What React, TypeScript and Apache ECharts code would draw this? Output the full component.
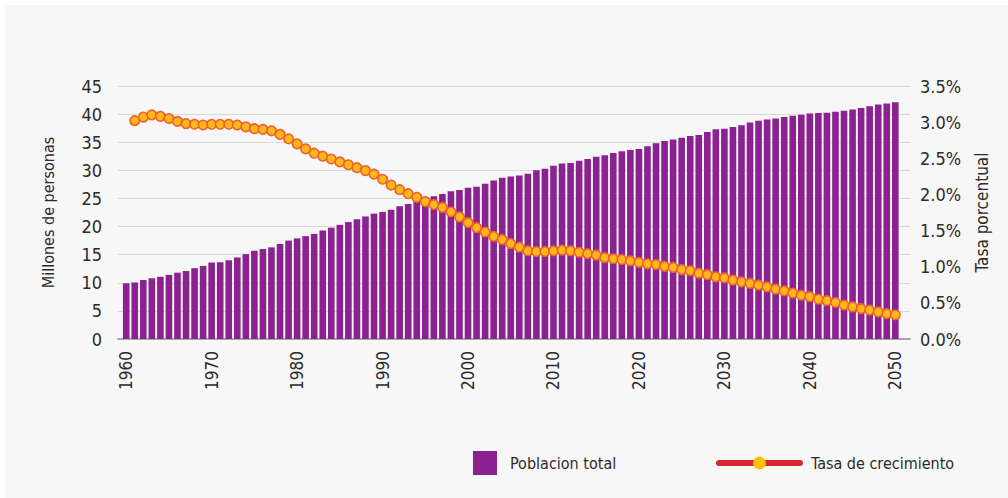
import React, { useEffect, useRef } from "react";
import * as echarts from "echarts";

const years = [
  1960, 1961, 1962, 1963, 1964, 1965, 1966, 1967, 1968, 1969,
  1970, 1971, 1972, 1973, 1974, 1975, 1976, 1977, 1978, 1979,
  1980, 1981, 1982, 1983, 1984, 1985, 1986, 1987, 1988, 1989,
  1990, 1991, 1992, 1993, 1994, 1995, 1996, 1997, 1998, 1999,
  2000, 2001, 2002, 2003, 2004, 2005, 2006, 2007, 2008, 2009,
  2010, 2011, 2012, 2013, 2014, 2015, 2016, 2017, 2018, 2019,
  2020, 2021, 2022, 2023, 2024, 2025, 2026, 2027, 2028, 2029,
  2030, 2031, 2032, 2033, 2034, 2035, 2036, 2037, 2038, 2039,
  2040, 2041, 2042, 2043, 2044, 2045, 2046, 2047, 2048, 2049,
  2050,
];

const yearLabels = [1960, 1970, 1980, 1990, 2000, 2010, 2020, 2030, 2040, 2050];

// Poblacion total (millones de personas)
const poblacion = [
  9.9, 10.05, 10.5, 10.8, 11.07, 11.4, 11.8, 12.1, 12.6, 13.0,
  13.6, 13.65, 14.0, 14.5, 15.1, 15.7, 16.0, 16.3, 16.9, 17.5,
  17.9, 18.3, 18.7, 19.3, 19.8, 20.3, 20.8, 21.3, 21.8, 22.3,
  22.6, 23.0, 23.6, 24.0, 24.6, 25.1, 25.4, 25.8, 26.3, 26.5,
  26.9, 27.1, 27.6, 28.2, 28.7, 28.9, 29.1, 29.4, 30.0, 30.3,
  30.8, 31.2, 31.3, 31.7, 32.0, 32.4, 32.7, 33.1, 33.4, 33.6,
  33.8, 34.3, 34.8, 35.2, 35.5, 35.8, 36.1, 36.3, 36.8, 37.3,
  37.4, 37.7, 38.0, 38.5, 38.8, 39.05, 39.2, 39.5, 39.7, 39.9,
  40.1, 40.2, 40.25, 40.4, 40.6, 40.8, 41.1, 41.4, 41.7, 41.9,
  42.1,
];

// Tasa de crecimiento (%)
const tasa: (number | null)[] = [
  null, 3.02, 3.07, 3.1, 3.08, 3.05, 3.01, 2.98, 2.97, 2.96,
  2.97, 2.97, 2.97, 2.96, 2.935, 2.91, 2.9, 2.88, 2.83, 2.77,
  2.7, 2.63, 2.57, 2.53, 2.49, 2.45, 2.41, 2.37, 2.33, 2.28,
  2.21, 2.13, 2.065, 2.01, 1.96, 1.9, 1.86, 1.82, 1.76, 1.69,
  1.61, 1.54, 1.48, 1.42, 1.375, 1.32, 1.27, 1.22, 1.21, 1.21,
  1.22, 1.23, 1.22, 1.2, 1.18, 1.16, 1.125, 1.11, 1.1, 1.08,
  1.06, 1.04, 1.03, 1.005, 0.99, 0.96, 0.945, 0.91, 0.89, 0.86,
  0.845, 0.815, 0.79, 0.77, 0.745, 0.72, 0.69, 0.665, 0.635, 0.605,
  0.585, 0.55, 0.53, 0.505, 0.47, 0.445, 0.42, 0.4, 0.375, 0.35,
  0.335,
];

const F = "'Liberation Sans Narrow', 'DejaVu Sans Condensed', 'Open Sans', sans-serif";
const TXT = "#2b2b2b";

export default function App() {
  const ref = useRef<HTMLDivElement>(null);
  useEffect(() => {
    document.body.style.margin = "0";
    const chart = echarts.init(ref.current!, null, { renderer: "svg" });
    const barData = years.map((y, i) => [y, poblacion[i]]);
    const lineData = years
      .map((y, i) => (tasa[i] === null ? null : [y, tasa[i]]))
      .filter((d) => d !== null);
    chart.setOption({
      animation: false,
      backgroundColor: "#ffffff",
      graphic: [
        {
          type: "rect",
          z: -100,
          silent: true,
          shape: { x: 5, y: 5, width: 1003, height: 493 },
          style: { fill: "#f7f7f7" },
        },
      ],
      grid: { left: 118, right: 98, top: 86, bottom: 159 },
      xAxis: {
        type: "value",
        min: 1959.04,
        max: 2051.72,
        axisLine: { show: true, lineStyle: { color: "#a6a6a6", width: 2 } },
        axisTick: { show: false },
        splitLine: { show: false },
        axisLabel: {
          customValues: yearLabels,
          rotate: 90,
          margin: 12,
          fontSize: 17,
          color: TXT,
          fontFamily: F,
          formatter: (v: number) => String(v),
        },
      },
      yAxis: [
        {
          type: "value",
          min: 0,
          max: 45,
          interval: 5,
          name: "Millones de personas",
          nameLocation: "middle",
          nameRotate: 90,
          nameGap: 62,
          nameTextStyle: { fontSize: 16, color: TXT, fontFamily: F },
          axisLine: { show: false },
          axisTick: { show: false },
          axisLabel: { margin: 16, fontSize: 18, color: TXT, fontFamily: F },
          splitLine: { lineStyle: { color: "#d9d9d9", width: 1 } },
        },
        {
          type: "value",
          min: 0,
          max: 3.5,
          interval: 0.5,
          position: "right",
          name: "Tasa porcentual",
          nameLocation: "middle",
          nameRotate: 90,
          nameGap: 63,
          nameTextStyle: { fontSize: 17, color: TXT, fontFamily: F },
          axisLine: { show: false },
          axisTick: { show: false },
          splitLine: { show: false },
          axisLabel: {
            margin: 10,
            fontSize: 18,
            color: TXT,
            fontFamily: F,
            formatter: (v: number) => v.toFixed(1) + "%",
          },
        },
      ],
      legend: [
        {
          data: ["Poblacion total"],
          left: 473,
          top: 451,
          padding: 0,
          itemWidth: 24,
          itemHeight: 24,
          icon: "rect",
          textStyle: { fontSize: 16, color: TXT, fontFamily: F, padding: [0, 0, 0, 8] },
        },
        {
          data: ["Tasa de crecimiento"],
          left: 716,
          top: 455,
          padding: 0,
          itemWidth: 81,
          itemHeight: 16,
          lineStyle: { color: "#d7282f", width: 6, cap: "round" },
          itemStyle: { color: "#ffc000", borderWidth: 0 },
          textStyle: { fontSize: 16, color: TXT, fontFamily: F, padding: [0, 0, 0, 6] },
        },
      ],
      series: [
        {
          type: "bar",
          name: "Poblacion total",
          yAxisIndex: 0,
          data: barData,
          barWidth: 6.6,
          itemStyle: { color: "#8b2291" },
        },
        {
          type: "line",
          name: "Tasa de crecimiento",
          yAxisIndex: 1,
          data: lineData,
          symbol: "circle",
          symbolSize: 9.5,
          showSymbol: true,
          showAllSymbol: true,
          lineStyle: { color: "#f05a28", width: 2 },
          itemStyle: { color: "#ffb81c", borderColor: "#f0602a", borderWidth: 1.6 },
          z: 3,
        },
      ],
    });
    return () => chart.dispose();
  }, []);
  return <div ref={ref} style={{ width: 1008, height: 498 }} />;
}
